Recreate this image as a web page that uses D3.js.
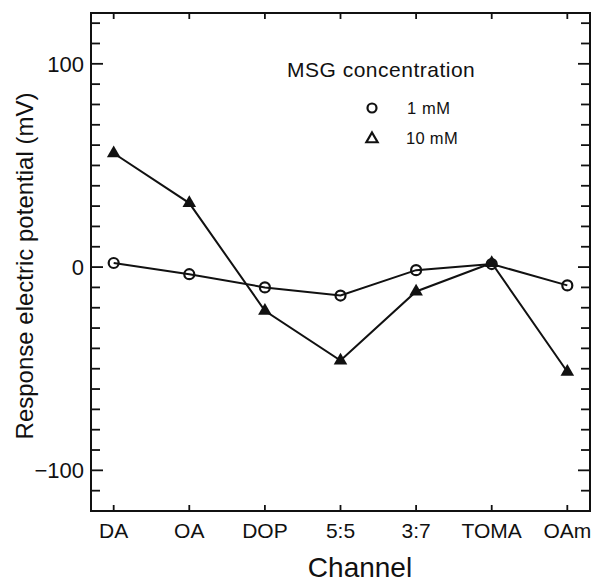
<!DOCTYPE html>
<html><head><meta charset="utf-8">
<script src="https://cdn.jsdelivr.net/npm/d3@7"></script>
<style>body{margin:0;background:#fff;} text{font-family:"Liberation Sans",Arial,sans-serif;fill:#111;}</style>
</head><body>
<svg id="c" width="596" height="582"></svg>
<script>
const channels = ["DA","OA","DOP","5:5","3:7","TOMA","OAm"];
const mM1 = [2, -3.5, -10, -14, -1.5, 1.5, -9];
const mM10 = [56, 31.5, -21.5, -46, -12, 2, -51.5];
const yMajorTicks = [-100, 0, 100];
const seriesNames = ["1 mM", "10 mM"];

const svg = d3.select("#c");
const L = 91, R = 590, T = 13, B = 511;
const x = d3.scaleLinear().domain([-0.3, 6.3]).range([L, R]);
const y = d3.scaleLinear().domain([-120, 125]).range([B, T]);
const ink = "#111";

// frame
svg.append("rect").attr("x", L).attr("y", T).attr("width", R - L).attr("height", B - T)
  .attr("fill", "none").attr("stroke", ink).attr("stroke-width", 2);

const minor = d3.range(-110, 125, 10);
// left ticks (inward)
svg.append("g").selectAll("line").data(minor).join("line")
  .attr("x1", L).attr("x2", d => L + (d % 100 === 0 ? 12 : 9))
  .attr("y1", d => y(d)).attr("y2", d => y(d)).attr("stroke", ink).attr("stroke-width", 1.8);
// right ticks (inward)
svg.append("g").selectAll("line").data(minor).join("line")
  .attr("x1", R).attr("x2", d => R - (d % 100 === 0 ? 12 : 9))
  .attr("y1", d => y(d)).attr("y2", d => y(d)).attr("stroke", ink).attr("stroke-width", 1.8);
// bottom & top ticks
svg.append("g").selectAll("line").data(channels).join("line")
  .attr("x1", (d, i) => x(i)).attr("x2", (d, i) => x(i))
  .attr("y1", B).attr("y2", B - 6).attr("stroke", ink).attr("stroke-width", 1.8);
svg.append("g").selectAll("line").data(channels).join("line")
  .attr("x1", (d, i) => x(i)).attr("x2", (d, i) => x(i))
  .attr("y1", T).attr("y2", T + 6).attr("stroke", ink).attr("stroke-width", 1.8);

// y tick labels
svg.append("g").selectAll("text").data(yMajorTicks).join("text")
  .attr("x", 84).attr("y", d => y(d) + 8).attr("text-anchor", "end")
  .attr("font-size", 22).text(d => d < 0 ? "\u2212" + Math.abs(d) : d);

// x tick labels
svg.append("g").selectAll("text").data(channels).join("text")
  .attr("x", (d, i) => x(i)).attr("y", 538).attr("text-anchor", "middle")
  .attr("font-size", 21).text(d => d);

// axis titles
svg.append("text").attr("x", 360).attr("y", 577).attr("text-anchor", "middle")
  .attr("font-size", 28).text("Channel");
svg.append("text").attr("transform", "translate(33,266) rotate(-90)")
  .attr("text-anchor", "middle").attr("font-size", 24).text("Response electric potential (mV)");

// lines
const line = d3.line().x((d, i) => x(i)).y(d => y(d));
svg.append("path").datum(mM1).attr("d", line).attr("fill", "none").attr("stroke", ink).attr("stroke-width", 2);
svg.append("path").datum(mM10).attr("d", line).attr("fill", "none").attr("stroke", ink).attr("stroke-width", 2);

// markers
const tri = d3.symbol().type(d3.symbolTriangle).size(80);
svg.append("g").selectAll("path").data(mM10).join("path")
  .attr("d", tri).attr("transform", (d, i) => `translate(${x(i)},${y(d)})`).attr("fill", ink);
svg.append("g").selectAll("circle").data(mM1).join("circle")
  .attr("cx", (d, i) => x(i)).attr("cy", d => y(d)).attr("r", 5)
  .attr("fill", "none").attr("stroke", ink).attr("stroke-width", 2.2);

// legend
svg.append("text").attr("x", 287).attr("y", 77).attr("font-size", 21).attr("letter-spacing", 0.5).text("MSG concentration");
svg.append("circle").attr("cx", 372).attr("cy", 108).attr("r", 4.5).attr("fill", "none").attr("stroke", ink).attr("stroke-width", 2.2);
svg.append("path").attr("d", d3.symbol().type(d3.symbolTriangle).size(55)).attr("transform", "translate(372,139)")
  .attr("fill", "none").attr("stroke", ink).attr("stroke-width", 2.2);
svg.append("text").attr("x", 407).attr("y", 114).attr("font-size", 16.5).attr("letter-spacing", 0.6).text(seriesNames[0]);
svg.append("text").attr("x", 406).attr("y", 144).attr("font-size", 16.5).attr("letter-spacing", 0.3).text(seriesNames[1]);
</script>
</body></html>
